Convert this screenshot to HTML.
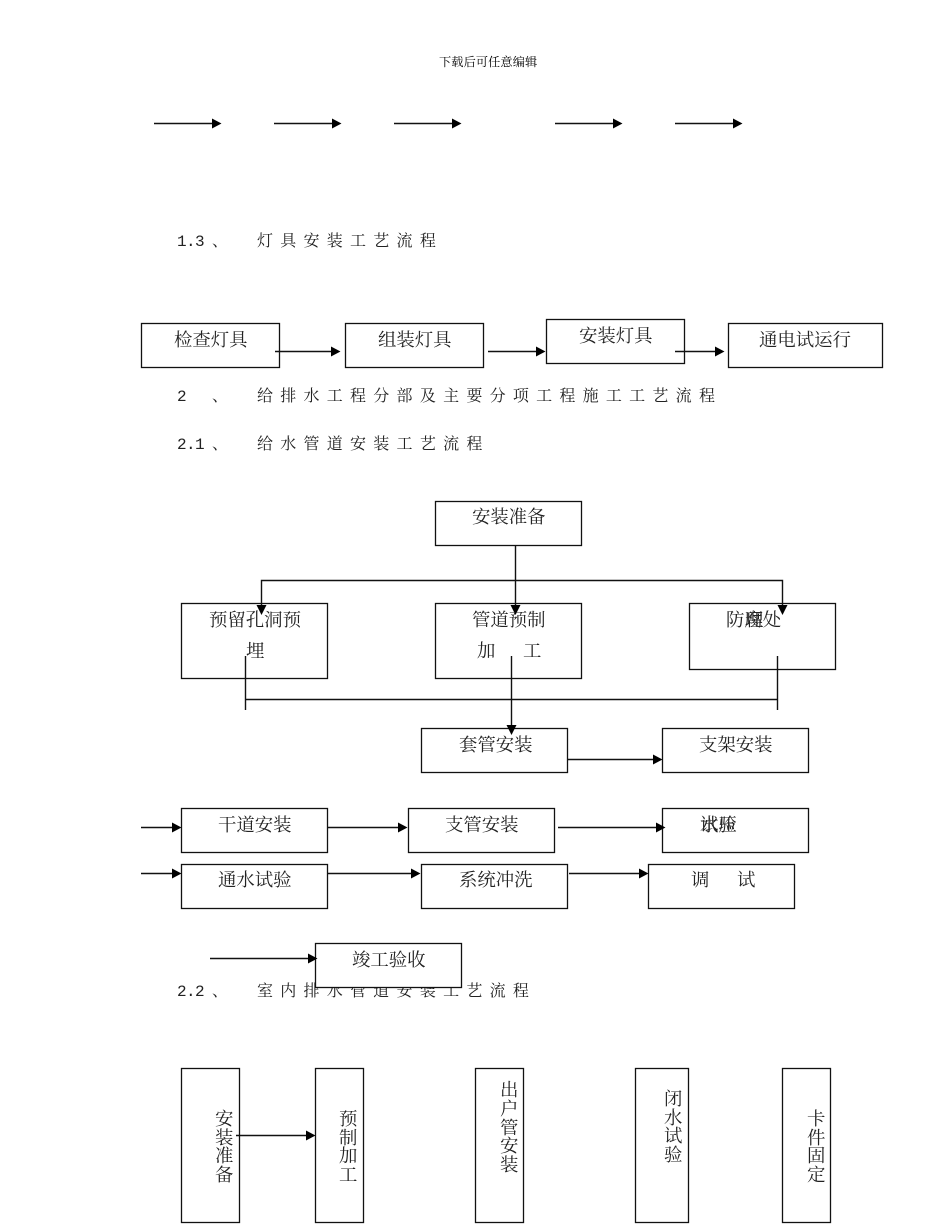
<!DOCTYPE html>
<html><head><meta charset="utf-8"><style>
html,body{margin:0;padding:0;background:#fff}
svg{display:block;filter:blur(0.3px)}
text{font-family:"Liberation Serif","Noto Serif CJK SC",serif;fill:#222}
.b{font-size:18.4px}
.h{font-size:16px;letter-spacing:7.26px}
.n{font-family:"Liberation Mono","Noto Serif CJK SC",monospace;font-size:16px}
rect{fill:#fff;stroke:#111;stroke-width:1.3}
.l{stroke:#111;stroke-width:1.4;fill:none}
.a{fill:#000;stroke:none}
</style></head><body>
<svg width="950" height="1230" viewBox="0 0 950 1230" xmlns="http://www.w3.org/2000/svg">
<text x="439" y="66" style="font-size:12.2px;fill:#000;letter-spacing:0.1px">下载后可任意编辑</text>

<!-- top arrows -->
<path class="l" d="M154 123.500H214M274 123.500H334M394 123.500H454M555 123.500H615M675 123.500H735"/>
<path class="a" d="M212 118.500l9.500 5-9.500 5zM332 118.500l9.500 5-9.500 5zM452 118.500l9.500 5-9.500 5zM613 118.500l9.500 5-9.500 5zM733 118.500l9.500 5-9.500 5z"/>

<!-- headings -->
<text class="n" x="177 186 195 212" y="246">1.3、</text>
<text class="h" x="257" y="246">灯具安装工艺流程</text>
<text class="n" x="177 212" y="401">2、</text>
<text class="h" x="257" y="401">给排水工程分部及主要分项工程施工工艺流程</text>
<text class="n" x="177 186 195 212" y="449">2.1、</text>
<text class="h" x="257" y="449">给水管道安装工艺流程</text>
<text class="n" x="177 186 195 212" y="996">2.2、</text>
<text class="h" x="257" y="996">室内排水管道安装工艺流程</text>

<!-- row 1 -->
<rect x="141.500" y="323.500" width="138" height="44"/>
<rect x="345.500" y="323.500" width="138" height="44"/>
<rect x="546.500" y="319.500" width="138" height="44"/>
<rect x="728.500" y="323.500" width="154" height="44"/>
<text class="b" x="174" y="346">检查灯具</text>
<text class="b" x="378" y="346">组装灯具</text>
<text class="b" x="579" y="342">安装灯具</text>
<text class="b" x="759" y="346">通电试运行</text>
<path class="l" d="M275 351.500H334M488 351.500H538M675 351.500H717"/>
<path class="a" d="M331 346.500l9.500 5-9.500 5zM536 346.500l9.500 5-9.500 5zM715 346.500l9.500 5-9.500 5z"/>

<!-- 2.1 tree -->
<rect x="435.500" y="501.500" width="146" height="44"/>
<text class="b" x="472" y="523">安装准备</text>
<rect x="181.500" y="603.500" width="146" height="75"/>
<rect x="435.500" y="603.500" width="146" height="75"/>
<rect x="689.500" y="603.500" width="146" height="66"/>
<rect x="421.500" y="728.500" width="146" height="44"/>
<rect x="662.500" y="728.500" width="146" height="44"/>
<text class="b" x="209" y="626">预留孔洞预</text>
<text class="b" x="246" y="657">埋</text>
<text class="b" x="472" y="626">管道预制</text>
<text class="b" x="477" y="657">加</text>
<text class="b" x="523" y="657">工</text>
<text class="b" x="726" y="626">防腐处</text>
<text class="b" x="745" y="626">理</text>
<path class="l" d="M515.500 546V606M261.500 606V580.500H782.500V606"/>
<path class="a" d="M256.500 605l5 10 5-10zM510.500 605l5 10 5-10zM777.500 605l5 10 5-10z"/>
<path class="l" d="M245.500 656V710M777.500 656V710M245 699.500H778M511.500 656V727"/>
<path class="a" d="M506.500 725l5 10 5-10z"/>
<text class="b" x="459" y="751">套管安装</text>
<text class="b" x="699" y="751">支架安装</text>
<path class="l" d="M568 759.500H655"/>
<path class="a" d="M653 754.500l9.500 5-9.500 5z"/>

<!-- rows -->
<rect x="181.500" y="808.500" width="146" height="44"/>
<rect x="408.500" y="808.500" width="146" height="44"/>
<rect x="662.500" y="808.500" width="146" height="44"/>
<text class="b" x="218" y="831">干道安装</text>
<text class="b" x="445" y="831">支管安装</text>
<text class="b" x="700" y="831">水压</text>
<text class="b" x="700" y="831">试验</text>
<path class="l" d="M141 827.500H174M327 827.500H400M558 827.500H658"/>
<path class="a" d="M172 822.500l9.500 5-9.500 5zM398 822.500l9.500 5-9.500 5zM656 822.500l9.500 5-9.500 5z"/>

<rect x="181.500" y="864.500" width="146" height="44"/>
<rect x="421.500" y="864.500" width="146" height="44"/>
<rect x="648.500" y="864.500" width="146" height="44"/>
<text class="b" x="218" y="886">通水试验</text>
<text class="b" x="459" y="886">系统冲洗</text>
<text class="b" x="691" y="886">调</text>
<text class="b" x="737" y="886">试</text>
<path class="l" d="M141 873.500H174M327 873.500H413M569 873.500H641"/>
<path class="a" d="M172 868.500l9.500 5-9.500 5zM411 868.500l9.500 5-9.500 5zM639 868.500l9.500 5-9.500 5z"/>

<rect x="315.500" y="943.500" width="146" height="44"/>
<text class="b" x="352" y="966">竣工验收</text>
<path class="l" d="M210 958.500H310"/>
<path class="a" d="M308 953.500l9.500 5-9.500 5z"/>

<!-- 2.2 vertical boxes -->
<rect x="181.500" y="1068.500" width="58" height="154"/>
<rect x="315.500" y="1068.500" width="48" height="154"/>
<rect x="475.500" y="1068.500" width="48" height="154"/>
<rect x="635.500" y="1068.500" width="53" height="154"/>
<rect x="782.500" y="1068.500" width="48" height="154"/>
<text class="b" x="215 215 215 215" y="1125 1144 1162 1181">安装准备</text>
<text class="b" x="339 339 339 339" y="1125 1144 1162 1181">预制加工</text>
<text class="b" x="500 500 500 500 500" y="1096 1115 1134 1152 1171">出户管安装</text>
<text class="b" x="664 664 664 664" y="1105 1124 1142 1161">闭水试验</text>
<text class="b" x="807 807 807 807" y="1125 1144 1162 1181">卡件固定</text>
<path class="l" d="M236 1135.500H308"/>
<path class="a" d="M306 1130.500l9.500 5-9.500 5z"/>
</svg>
</body></html>
